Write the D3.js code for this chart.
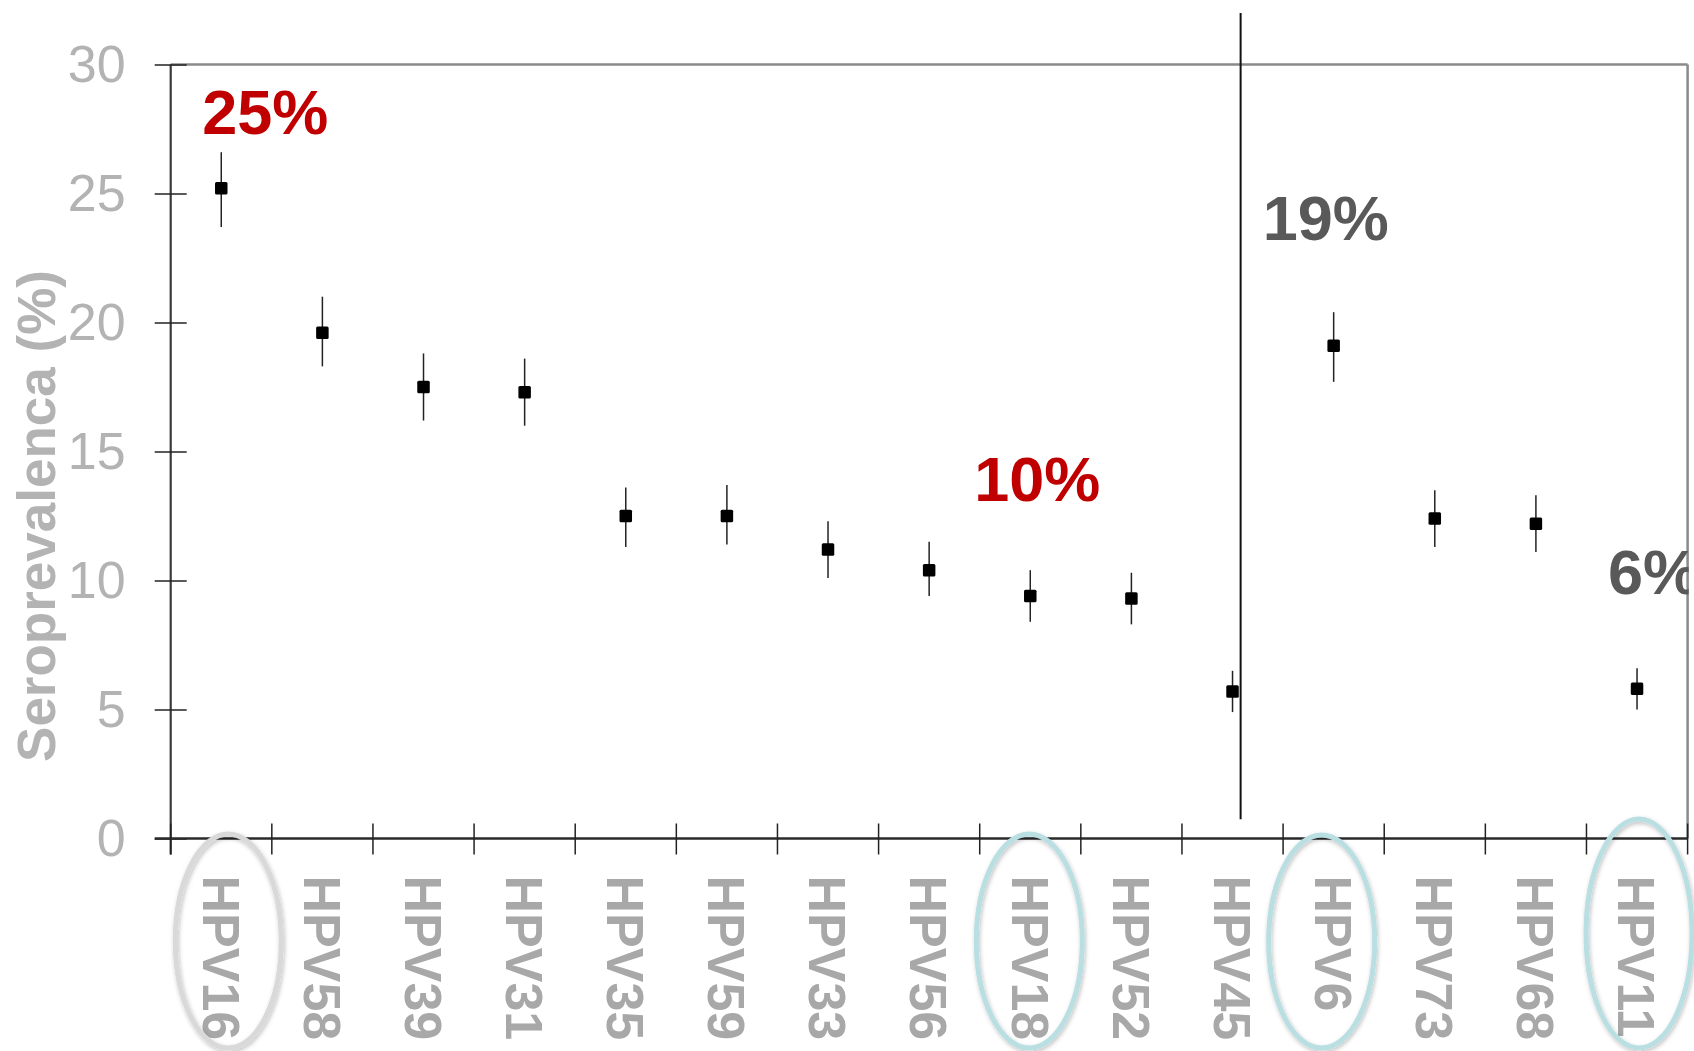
<!DOCTYPE html>
<html>
<head>
<meta charset="utf-8">
<title>Seroprevalenca HPV</title>
<script src="https://cdn.jsdelivr.net/npm/d3@7"></script>
<style>
  html, body { margin: 0; padding: 0; background: #fff; }
  svg { display: block; font-family: "Liberation Sans", Arial, sans-serif; }
</style>
</head>
<body>
<svg id="chart" width="1694" height="1051"></svg>
<script>
// HPV genotypes, in plotted order
const categories = ["HPV16", "HPV58", "HPV39", "HPV31", "HPV35", "HPV59", "HPV33", "HPV56",
                    "HPV18", "HPV52", "HPV45", "HPV6", "HPV73", "HPV68", "HPV11"];
// seroprevalence (%) with lower / upper confidence limits
const seroprevalence = [25.2, 19.6, 17.5, 17.3, 12.5, 12.5, 11.2, 10.4, 9.4, 9.3, 5.7, 19.1, 12.4, 12.2, 5.8];
const ciLower        = [23.7, 18.3, 16.2, 16.0, 11.3, 11.4, 10.1, 9.4, 8.4, 8.3, 4.9, 17.7, 11.3, 11.1, 5.0];
const ciUpper        = [26.6, 21.0, 18.8, 18.6, 13.6, 13.7, 12.3, 11.5, 10.4, 10.3, 6.5, 20.4, 13.5, 13.3, 6.6];

const yTicks = [0, 5, 10, 15, 20, 25, 30];
const yTitle = "Seroprevalenca (%)";

// callout percentages and the genotype each one belongs to
const calloutText     = ["25%", "10%", "19%", "6%"];
const calloutCategory = ["HPV16", "HPV18", "HPV6", "HPV11"];
const calloutColor    = ["#c00000", "#c00000", "#595959", "#595959"];

// genotypes circled below the axis
const circledCategory = ["HPV16", "HPV18", "HPV6", "HPV11"];
const circledColor    = ["#d9d9d9", "#b9dfe2", "#b9dfe2", "#b9dfe2"];

const data = categories.map((c, i) => ({
  cat: c, value: seroprevalence[i], lo: ciLower[i], hi: ciUpper[i]
}));

const svg = d3.select("#chart");
const W = 1694, H = 1051;
const plotLeft = 170.7, plotRight = 1687.6, plotTop = 64.5, plotBottom = 838.5;

svg.append("rect").attr("width", W).attr("height", H).attr("fill", "#fff");

const x = d3.scaleBand().domain(categories).range([plotLeft, plotRight]).padding(0);
const y = d3.scaleLinear().domain([0, 30]).range([plotBottom, plotTop]);
const cx = c => x(c) + x.bandwidth() / 2;

const defs = svg.append("defs");
const shadow = defs.append("filter").attr("id", "soft").attr("x", "-20%").attr("y", "-20%")
  .attr("width", "140%").attr("height", "140%");
shadow.append("feDropShadow").attr("dx", 1).attr("dy", 2).attr("stdDeviation", 2)
  .attr("flood-color", "#000").attr("flood-opacity", 0.25);
defs.append("clipPath").attr("id", "plotClip")
  .append("rect").attr("x", 0).attr("y", 0).attr("width", plotRight + 1).attr("height", H);

// frame: top and right edges
svg.append("line").attr("x1", plotLeft).attr("x2", plotRight).attr("y1", plotTop).attr("y2", plotTop)
  .attr("stroke", "#8a8a8a").attr("stroke-width", 2.5);
svg.append("line").attr("x1", plotRight).attr("x2", plotRight).attr("y1", plotTop).attr("y2", plotBottom)
  .attr("stroke", "#8a8a8a").attr("stroke-width", 2.5);

// y axis
const yAxis = svg.append("g").attr("transform", `translate(${plotLeft},0)`)
  .call(d3.axisLeft(y).tickValues(yTicks).tickFormat(d3.format("d")).tickSizeOuter(0).tickPadding(39));
yAxis.select(".domain").attr("stroke", "#3a3a3a").attr("stroke-width", 2.2)
  .attr("d", `M0,${plotTop}V${plotBottom + 16}`);
yAxis.selectAll(".tick line").attr("x1", -16).attr("x2", 16)
  .attr("stroke", "#222").attr("stroke-width", 1.5);
yAxis.selectAll(".tick text").attr("fill", "#b3b3b3").attr("font-size", 52)
  .attr("font-family", "Liberation Sans, Arial, sans-serif");

// y axis title
svg.append("text")
  .attr("transform", `translate(55,516) rotate(-90)`)
  .attr("text-anchor", "middle")
  .attr("font-size", 53).attr("font-weight", "bold").attr("fill", "#b3b3b3")
  .text(yTitle);

// x axis
const xAxis = svg.append("g").attr("transform", `translate(0,${plotBottom})`)
  .call(d3.axisBottom(x).tickSize(0).tickPadding(0));
xAxis.select(".domain").attr("stroke", "#2a2a2a").attr("stroke-width", 2.5)
  .attr("d", `M${plotLeft - 16},0H${plotRight}`);
xAxis.selectAll(".tick text")
  .attr("transform", "rotate(90)")
  .attr("text-anchor", "start")
  .attr("x", 37).attr("y", 0).attr("dy", "0.36em")
  .attr("font-size", 52).attr("font-weight", "bold").attr("fill", "#a8a8a8")
  .attr("font-family", "Liberation Sans, Arial, sans-serif");

// x tick marks at category boundaries
const edges = categories.map(c => x(c)).concat([plotRight]);
svg.append("g").selectAll("line").data(edges).join("line")
  .attr("x1", d => d).attr("x2", d => d)
  .attr("y1", plotBottom - 15).attr("y2", plotBottom + 16)
  .attr("stroke", "#222").attr("stroke-width", 1.5);

// circled genotype labels
const ellipseDx = { HPV16: 7, HPV18: -1, HPV6: -12, HPV11: 2 };
const ellipseTop = { HPV16: 834, HPV18: 834, HPV6: 835, HPV11: 819 };
svg.append("g").attr("filter", "url(#soft)").selectAll("ellipse")
  .data(circledCategory).join("ellipse")
  .attr("cx", c => cx(c) + ellipseDx[c])
  .attr("cy", c => (ellipseTop[c] + 1048) / 2)
  .attr("rx", 53)
  .attr("ry", c => (1048 - ellipseTop[c]) / 2)
  .attr("fill", "none")
  .attr("stroke", (c, i) => circledColor[i])
  .attr("stroke-width", 5);

// divider between high-risk and low-risk genotypes
const divX = x("HPV45") + x.bandwidth() * 0.58;
svg.append("line").attr("x1", divX).attr("x2", divX)
  .attr("y1", y(32)).attr("y2", y(0.75))
  .attr("stroke", "#111").attr("stroke-width", 2);

// confidence intervals
svg.append("g").selectAll("line").data(data).join("line")
  .attr("x1", d => cx(d.cat)).attr("x2", d => cx(d.cat))
  .attr("y1", d => y(d.hi)).attr("y2", d => y(d.lo))
  .attr("stroke", "#222").attr("stroke-width", 1.5);

// point estimates
const ms = 12.5;
svg.append("g").selectAll("rect").data(data).join("rect")
  .attr("x", d => cx(d.cat) - ms / 2).attr("y", d => y(d.value) - ms / 2)
  .attr("width", ms).attr("height", ms).attr("rx", 1.5)
  .attr("fill", "#000");

// callout percentages (the last one runs past the frame and is cut at its edge)
const calloutPos = { HPV16: [-19, 27.3], HPV18: [-56, 13.1], HPV6: [-71, 23.2], HPV11: [-29, 9.47] };
svg.append("g").attr("clip-path", "url(#plotClip)").selectAll("text")
  .data(calloutText).join("text")
  .attr("x", (t, i) => cx(calloutCategory[i]) + calloutPos[calloutCategory[i]][0])
  .attr("y", (t, i) => y(calloutPos[calloutCategory[i]][1]))
  .attr("font-size", 63).attr("font-weight", "bold")
  .attr("fill", (t, i) => calloutColor[i])
  .text(t => t);
</script>
</body>
</html>
